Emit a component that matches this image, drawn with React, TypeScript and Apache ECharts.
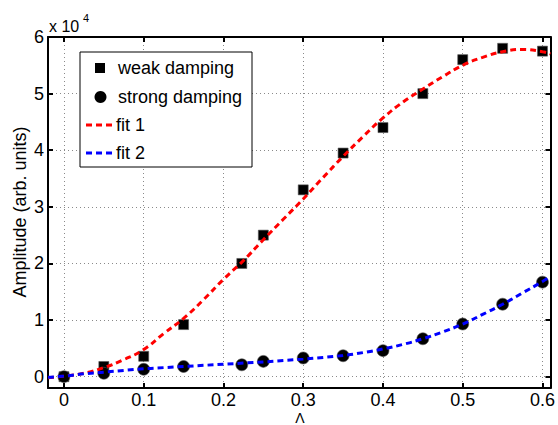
import React, { useEffect, useRef } from "react";
import * as echarts from "echarts";

const lambdaPoints = [0, 0.05, 0.1, 0.15, 0.223, 0.25, 0.3, 0.35, 0.4, 0.45, 0.5, 0.55, 0.6];
const weakDamping = [0, 1800, 3600, 9200, 20000, 25000, 33000, 39500, 44000, 50000, 56000, 58000, 57500];
const strongDamping = [0, 600, 1300, 1800, 2100, 2700, 3300, 3700, 4600, 6700, 9300, 12800, 16700];

const fitLambda = [-0.02, 0, 0.025, 0.05, 0.075, 0.1, 0.125, 0.15, 0.175, 0.2, 0.225, 0.25, 0.275, 0.3, 0.325, 0.35, 0.375, 0.4, 0.425, 0.45, 0.475, 0.5, 0.525, 0.55, 0.575, 0.6, 0.61];
const fit1 = [-200, 100, 600, 1600, 3000, 4800, 7600, 10300, 13600, 17200, 20500, 24200, 27800, 31400, 35200, 38900, 42400, 45700, 48500, 50800, 53000, 55000, 56400, 57400, 57800, 57400, 57000];
const fit2 = [-100, 100, 500, 800, 1100, 1400, 1600, 1800, 2000, 2200, 2400, 2600, 2850, 3100, 3400, 3750, 4250, 4900, 5700, 6700, 7900, 9300, 11000, 12800, 14800, 16800, 17700];

const xTicks = [0, 0.1, 0.2, 0.3, 0.4, 0.5, 0.6];
const yTicks = [0, 10000, 20000, 30000, 40000, 50000, 60000];
const seriesNames = ["weak damping", "strong damping", "fit 1", "fit 2"];
const xName = "Λ";
const yName = "Amplitude (arb. units)";

const FONT = "'Liberation Sans', Arial, Helvetica, sans-serif";
const RED = "#ff0000";
const BLUE = "#0000ff";

export default function App() {
  const ref = useRef<HTMLDivElement>(null);
  useEffect(() => {
    if (!ref.current) return;
    const chart = echarts.init(ref.current, undefined, { renderer: "svg" });
    const axisLine = { show: true, onZero: false, lineStyle: { color: "#000", width: 2 } };
    const tick = (vals: number[]) => ({ show: true, inside: true, length: 5, customValues: vals, lineStyle: { color: "#000", width: 2 } });
    const zip = (xs: number[], ys: number[]) => xs.map((x, i) => [x, ys[i]]);
    const dash = [6, 4];
    const gridLine = { show: true, lineStyle: { color: "#8a8a8a", width: 1, type: [1, 3] as any } };

    // legend drawn as graphic
    const lx = 80, ly = 52, lw = 172, lh = 115;
    const rowY = [68, 97, 125, 153];
    const legend: any[] = [
      { type: "rect", shape: { x: lx, y: ly, width: lw, height: lh }, style: { fill: "#fff", stroke: "#000", lineWidth: 1 }, z: 100 },
      { type: "rect", shape: { x: 95, y: rowY[0] - 5, width: 10, height: 10 }, style: { fill: "#000" }, z: 101 },
      { type: "circle", shape: { cx: 100.5, cy: rowY[1], r: 6 }, style: { fill: "#000" }, z: 101 },
      { type: "line", shape: { x1: 86, y1: rowY[2], x2: 116, y2: rowY[2] }, style: { stroke: RED, lineWidth: 3, lineDash: dash }, z: 101 },
      { type: "line", shape: { x1: 86, y1: rowY[3], x2: 116, y2: rowY[3] }, style: { stroke: BLUE, lineWidth: 3, lineDash: dash }, z: 101 },
    ];
    seriesNames.forEach((n, i) => {
      legend.push({
        type: "text",
        x: i < 2 ? 118 : 116,
        y: rowY[i],
        z: 101,
        style: { text: n, fontSize: 18, fontFamily: FONT, fill: "#000", verticalAlign: "middle", align: "left" },
      });
    });

    chart.setOption({
      animation: false,
      backgroundColor: "#fff",
      textStyle: { fontFamily: FONT },
      grid: { left: 48, top: 37, width: 504, height: 351, containLabel: false },
      xAxis: [
        {
          type: "value",
          min: -0.02,
          max: 0.61,
          axisLine,
          axisTick: tick(xTicks),
          axisLabel: { customValues: xTicks, fontSize: 18, lineHeight: 16, color: "#000", fontFamily: FONT, margin: 4 },
          splitLine: gridLine,
        },
        {
          type: "value",
          position: "top",
          min: -0.02,
          max: 0.61,
          axisLine,
          axisTick: tick(xTicks),
          axisLabel: { show: false, customValues: xTicks },
          splitLine: { show: false },
        },
      ],
      yAxis: [
        {
          type: "value",
          min: -2000,
          max: 60000,
          axisLine,
          axisTick: tick(yTicks),
          axisLabel: {
            customValues: yTicks,
            fontSize: 18,
            color: "#000",
            fontFamily: FONT,
            margin: 4,
            formatter: (v: number) => String(v / 10000),
          },
          splitLine: gridLine,
        },
        {
          type: "value",
          position: "right",
          min: -2000,
          max: 60000,
          axisLine,
          axisTick: tick(yTicks),
          axisLabel: { show: false, customValues: yTicks },
          splitLine: { show: false },
        },
      ],
      graphic: [
        { type: "text", left: 49, top: 18, style: { text: "x 10", fontSize: 16, fontFamily: FONT, fill: "#000" } },
        { type: "text", left: 83, top: 12, style: { text: "4", fontSize: 11, fontFamily: FONT, fill: "#000" } },
        { type: "text", x: 20, y: 212, rotation: Math.PI / 2, style: { text: yName, fontSize: 18, fontFamily: FONT, fill: "#000", align: "center", verticalAlign: "middle" } },
        { type: "text", x: 300, y: 418, style: { text: xName, fontSize: 14, lineHeight: 12, fontFamily: FONT, fill: "#000", align: "center", verticalAlign: "middle" } },
        ...legend,
      ],
      series: [
        {
          name: seriesNames[0],
          type: "scatter",
          symbol: "rect",
          symbolSize: 10,
          itemStyle: { color: "#000", opacity: 1, borderColor: "#555", borderWidth: 0.6 },
          data: zip(lambdaPoints, weakDamping),
        },
        {
          name: seriesNames[1],
          type: "scatter",
          symbol: "circle",
          symbolSize: 12,
          itemStyle: { color: "#000", opacity: 1, borderColor: "#555", borderWidth: 0.6 },
          data: zip(lambdaPoints, strongDamping),
        },
        {
          name: seriesNames[2],
          type: "line",
          smooth: true,
          symbol: "none",
          lineStyle: { color: RED, width: 3, type: dash },
          data: zip(fitLambda, fit1),
        },
        {
          name: seriesNames[3],
          type: "line",
          smooth: true,
          symbol: "none",
          lineStyle: { color: BLUE, width: 3, type: dash },
          data: zip(fitLambda, fit2),
        },
      ],
    });
    return () => chart.dispose();
  }, []);
  return <div ref={ref} style={{ position: "fixed", left: 0, top: 0, width: 558, height: 425 }} />;
}
